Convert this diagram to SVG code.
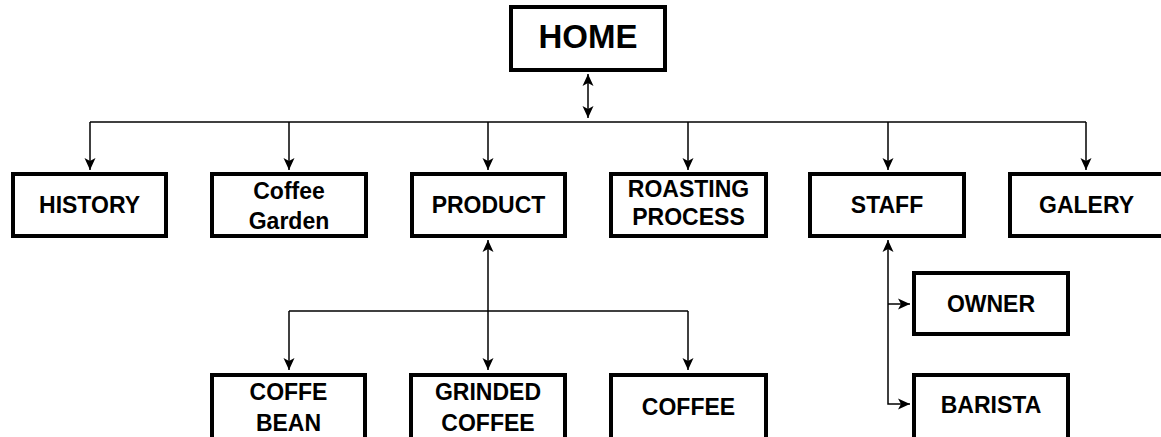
<svg xmlns="http://www.w3.org/2000/svg" width="1161" height="437" viewBox="0 0 1161 437">
<style>
.box{fill:#fff;stroke:#000;stroke-width:4}
.lbl{font-family:"Liberation Sans",Arial,sans-serif;font-weight:bold;font-size:23px;fill:#000;text-anchor:middle}
.big{font-size:33px}
.con{fill:none;stroke:#000;stroke-width:1.5}
</style>
<defs>
<marker id="ah" viewBox="0 0 12 12" refX="12" refY="6" markerWidth="12" markerHeight="12" markerUnits="userSpaceOnUse" orient="auto-start-reverse">
<path d="M0,0.5 L12,6 L0,11.5 L3,6 Z" fill="#000"/>
</marker>
</defs>
<rect width="1161" height="437" fill="#fff"/>
<g id="connectors">
<line class="con" x1="588" y1="74" x2="588" y2="118" marker-start="url(#ah)" marker-end="url(#ah)"/>
<line class="con" x1="90" y1="122" x2="1086" y2="122"/>
<line class="con" x1="90" y1="122" x2="90" y2="170" marker-end="url(#ah)"/>
<line class="con" x1="289" y1="122" x2="289" y2="170" marker-end="url(#ah)"/>
<line class="con" x1="488" y1="122" x2="488" y2="170" marker-end="url(#ah)"/>
<line class="con" x1="688" y1="122" x2="688" y2="170" marker-end="url(#ah)"/>
<line class="con" x1="888" y1="122" x2="888" y2="170" marker-end="url(#ah)"/>
<line class="con" x1="1086" y1="122" x2="1086" y2="170" marker-end="url(#ah)"/>
<line class="con" x1="488" y1="240" x2="488" y2="370" marker-start="url(#ah)" marker-end="url(#ah)"/>
<line class="con" x1="289" y1="311" x2="688" y2="311"/>
<line class="con" x1="289" y1="311" x2="289" y2="370" marker-end="url(#ah)"/>
<line class="con" x1="688" y1="311" x2="688" y2="370" marker-end="url(#ah)"/>
<polyline class="con" points="888,240 888,404 910,404" marker-start="url(#ah)" marker-end="url(#ah)"/>
<line class="con" x1="888" y1="304" x2="910" y2="304" marker-end="url(#ah)"/>
</g>
<g id="home"><rect class="box" x="511" y="7" width="154" height="63"/><text class="lbl big" x="588" y="48">HOME</text></g>
<g id="history"><rect class="box" x="13" y="174" width="153" height="62"/><text class="lbl" x="89.5" y="213">HISTORY</text></g>
<g id="coffee-garden"><rect class="box" x="212" y="174" width="154" height="62"/><text class="lbl" x="289" y="199">Coffee</text><text class="lbl" x="289" y="229">Garden</text></g>
<g id="product"><rect class="box" x="412" y="174" width="153" height="62"/><text class="lbl" x="488.5" y="213">PRODUCT</text></g>
<g id="roasting"><rect class="box" x="611" y="174" width="155" height="62"/><text class="lbl" x="688.5" y="197">ROASTING</text><text class="lbl" x="688.5" y="225">PROCESS</text></g>
<g id="staff"><rect class="box" x="810" y="174" width="154" height="62"/><text class="lbl" x="887" y="213">STAFF</text></g>
<g id="galery"><rect class="box" x="1010" y="174" width="154" height="62"/><text class="lbl" x="1086.5" y="213">GALERY</text></g>
<g id="owner"><rect class="box" x="914" y="273" width="154" height="61"/><text class="lbl" x="991" y="312">OWNER</text></g>
<g id="barista"><rect class="box" x="914" y="375" width="154" height="70"/><text class="lbl" x="991" y="413">BARISTA</text></g>
<g id="coffe-bean"><rect class="box" x="212" y="375" width="153" height="70"/><text class="lbl" x="288.5" y="400">COFFE</text><text class="lbl" x="288.5" y="431">BEAN</text></g>
<g id="grinded-coffee"><rect class="box" x="411" y="375" width="154" height="70"/><text class="lbl" x="488" y="400">GRINDED</text><text class="lbl" x="488" y="431">COFFEE</text></g>
<g id="coffee"><rect class="box" x="611" y="375" width="155" height="70"/><text class="lbl" x="688.5" y="415">COFFEE</text></g>
</svg>
